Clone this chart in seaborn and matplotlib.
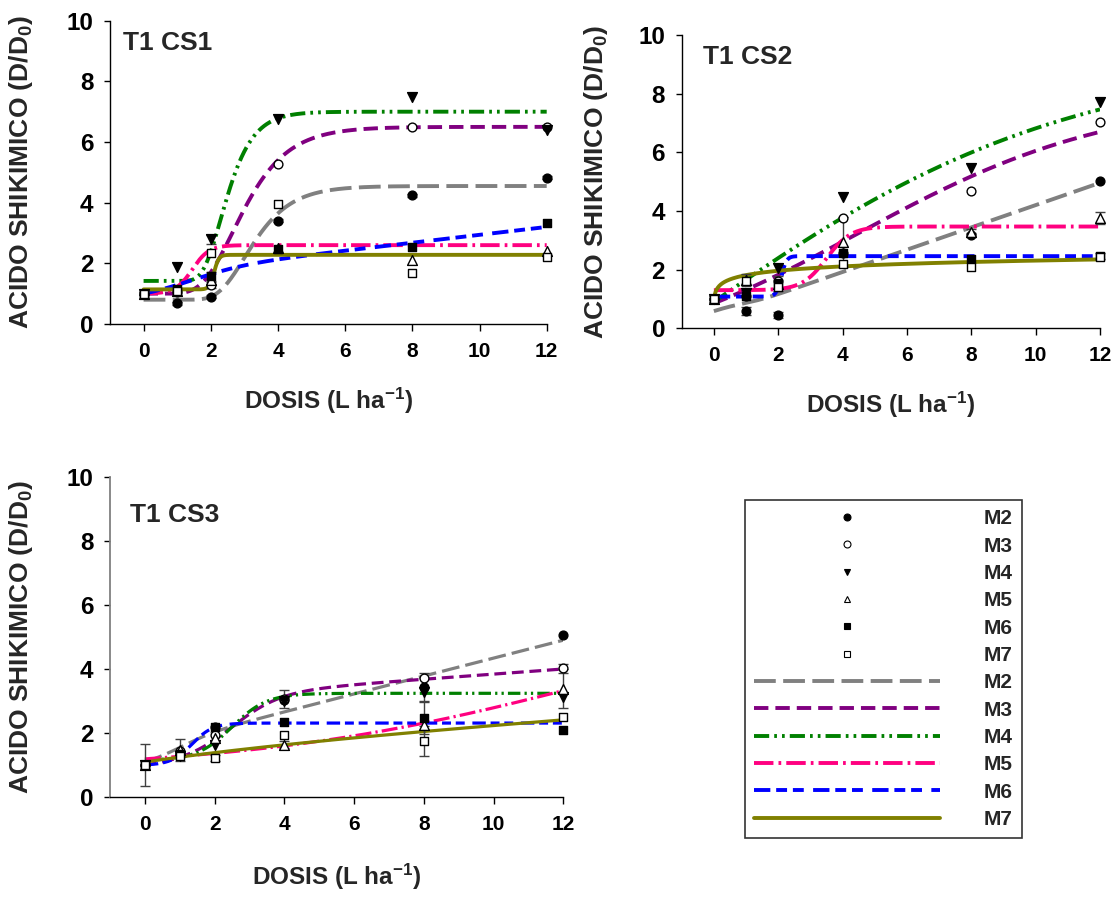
import numpy as np
import pandas as pd
import matplotlib
matplotlib.use("Agg")
import matplotlib.pyplot as plt
import seaborn as sns
from matplotlib.lines import Line2D

sns.set_theme(style="ticks")
plt.rcParams['font.family'] = ['Liberation Sans', 'DejaVu Sans']
plt.rcParams['font.weight'] = 'bold'
plt.rcParams['mathtext.fontset'] = 'custom'
plt.rcParams['mathtext.rm'] = 'Liberation Sans:bold'
plt.rcParams['mathtext.bf'] = 'Liberation Sans:bold'
plt.rcParams['mathtext.it'] = 'Liberation Sans:bold'

# ---------------- data ----------------
doses = [0, 1, 2, 4, 8, 12]
series = ["M2", "M3", "M4", "M5", "M6", "M7"]
x_ticks = [0, 2, 4, 6, 8, 10, 12]
y_ticks = [0, 2, 4, 6, 8, 10]
panel_titles = ["T1 CS1", "T1 CS2", "T1 CS3"]

# T1 CS1 means
cs1_m2 = [1.00, 0.68, 0.90, 3.40, 4.25, 4.82]
cs1_m3 = [1.00, 1.05, 1.30, 5.27, 6.50, 6.50]
cs1_m4 = [1.00, 1.89, 2.80, 6.75, 7.50, 6.40]
cs1_m5 = [1.00, 1.10, 1.45, 2.50, 2.10, 2.42]
cs1_m6 = [1.00, 1.15, 1.58, 2.48, 2.55, 3.32]
cs1_m7 = [1.00, 1.10, 2.33, 3.96, 1.69, 2.22]
# T1 CS1 errors
cs1_e2 = [0.05, 0.05, 0.05, 0.05, 0.05, 0.05]
cs1_e3 = [0.05, 0.00, 0.10, 0.00, 0.00, 0.00]
cs1_e4 = [0.00, 0.00, 0.15, 0.00, 0.00, 0.00]
cs1_e5 = [0.00, 0.00, 0.00, 0.00, 0.00, 0.00]
cs1_e6 = [0.00, 0.00, 0.15, 0.00, 0.00, 0.00]
cs1_e7 = [0.00, 0.00, 0.00, 0.00, 0.00, 0.00]

# T1 CS2 means
cs2_m2 = [1.00, 0.59, 0.46, 2.56, 3.18, 5.02]
cs2_m3 = [1.00, 1.10, 1.60, 3.75, 4.68, 7.02]
cs2_m4 = [1.00, 1.20, 2.05, 4.47, 5.48, 7.73]
cs2_m5 = [1.00, 1.65, 1.50, 2.95, 3.30, 3.75]
cs2_m6 = [1.00, 1.10, 1.53, 2.58, 2.35, 2.47]
cs2_m7 = [1.00, 1.60, 1.42, 2.20, 2.08, 2.44]
# T1 CS2 errors
cs2_e2 = [0.10, 0.12, 0.10, 0.00, 0.08, 0.00]
cs2_e3 = [0.00, 0.00, 0.00, 0.00, 0.00, 0.00]
cs2_e4 = [0.00, 0.00, 0.00, 0.00, 0.00, 0.00]
cs2_e5 = [0.00, 0.20, 0.00, 0.85, 0.10, 0.20]
cs2_e6 = [0.00, 0.00, 0.25, 0.00, 0.00, 0.10]
cs2_e7 = [0.00, 0.00, 0.00, 0.00, 0.00, 0.00]

# T1 CS3 means
cs3_m2 = [1.00, 1.40, 2.20, 3.05, 3.45, 5.07]
cs3_m3 = [1.00, 1.45, 1.95, 3.07, 3.72, 4.03]
cs3_m4 = [1.00, 1.30, 1.63, 3.00, 3.30, 3.15]
cs3_m5 = [1.00, 1.48, 1.85, 1.65, 2.26, 3.40]
cs3_m6 = [1.00, 1.35, 2.19, 2.36, 2.49, 2.10]
cs3_m7 = [1.01, 1.30, 1.22, 1.95, 1.76, 2.52]
# T1 CS3 errors
cs3_e2 = [0.00, 0.00, 0.00, 0.00, 0.45, 0.00]
cs3_e3 = [0.00, 0.00, 0.00, 0.28, 0.00, 0.13]
cs3_e4 = [0.00, 0.00, 0.00, 0.00, 0.00, 0.00]
cs3_e5 = [0.00, 0.33, 0.00, 0.12, 0.00, 0.60]
cs3_e6 = [0.00, 0.00, 0.00, 0.00, 0.50, 0.00]
cs3_e7 = [0.65, 0.00, 0.10, 0.00, 0.48, 0.00]

# fitted regression parameters: lo, h, x0, s, nu, k, q, c
# y = lo + h*(1+nu*exp(-(x-x0)/s))^(-1/nu) + k*x + q*ln(1+x/c)
cs1_f2 = [0.80, 3.75, 3.00, 0.775, 0.001, 0.00, 0.00, 1.0]
cs1_f3 = [1.00, 5.50, 2.65, 0.90, 0.001, 0.00, 0.00, 1.0]
cs1_f4 = [1.42, 5.58, 2.30, 0.53, 0.001, 0.00, 0.00, 1.0]
cs1_f5 = [1.00, 1.60, 1.45, 0.25, 1.0, 0.00, 0.00, 1.0]
cs1_f6 = [0.90, 0.74, 1.50, 0.80, 1.0, 0.13, 0.00, 1.0]
cs1_f7 = [1.14, 1.14, 2.10, 0.07, 1.0, 0.00, 0.00, 1.0]

cs2_f2 = [0.60, -0.20, 0.90, 0.35, 1.0, 0.38, 0.00, 1.0]
cs2_f3 = [-1.453, 9.40, 4.50, 4.00, 1.0, 0.00, 0.00, 1.0]
cs2_f4 = [-9.09, 18.45, -1.00, 6.00, 1.0, 0.00, 0.00, 1.0]
cs2_f5 = [1.30, 2.17, 3.50, 0.38, 1.0, 0.00, 0.00, 1.0]
cs2_f6 = [1.08, 1.38, 2.10, 0.08, 1.0, 0.00, 0.00, 1.0]
cs2_f7 = [0.96, 0.00, 0.00, 1.00, 1.0, 0.00, 0.217, 0.02]

cs3_f2 = [1.05, 0.50, 1.10, 0.50, 1.0, 0.28, 0.00, 1.0]
cs3_f3 = [0.95, 2.10, 2.50, 0.70, 1.0, 0.08, 0.00, 1.0]
cs3_f4 = [1.15, 2.10, 2.50, 0.50, 1.0, 0.00, 0.00, 1.0]
cs3_f5 = [0.813, 5.60, 13.0, 5.00, 1.0, 0.00, 0.00, 1.0]
cs3_f6 = [1.00, 1.32, 1.35, 0.30, 1.0, 0.00, 0.00, 1.0]
cs3_f7 = [1.10, 0.00, 0.00, 1.00, 1.0, 0.06, 0.433, 4.0]

panels = [
    (dict(zip(series, [cs1_m2, cs1_m3, cs1_m4, cs1_m5, cs1_m6, cs1_m7])),
     dict(zip(series, [cs1_e2, cs1_e3, cs1_e4, cs1_e5, cs1_e6, cs1_e7])),
     dict(zip(series, [cs1_f2, cs1_f3, cs1_f4, cs1_f5, cs1_f6, cs1_f7]))),
    (dict(zip(series, [cs2_m2, cs2_m3, cs2_m4, cs2_m5, cs2_m6, cs2_m7])),
     dict(zip(series, [cs2_e2, cs2_e3, cs2_e4, cs2_e5, cs2_e6, cs2_e7])),
     dict(zip(series, [cs2_f2, cs2_f3, cs2_f4, cs2_f5, cs2_f6, cs2_f7]))),
    (dict(zip(series, [cs3_m2, cs3_m3, cs3_m4, cs3_m5, cs3_m6, cs3_m7])),
     dict(zip(series, [cs3_e2, cs3_e3, cs3_e4, cs3_e5, cs3_e6, cs3_e7])),
     dict(zip(series, [cs3_f2, cs3_f3, cs3_f4, cs3_f5, cs3_f6, cs3_f7]))),
]

# ---------------- styles ----------------
line_colors = {"M2": "#808080", "M3": "#800080", "M4": "#008000",
               "M5": "#FF0080", "M6": "#0000FF", "M7": "#808000"}
line_dashes = {"M2": (0, (5.6, 1.9)),
               "M3": (0, (3.7, 1.8)),
               "M4": (0, (3.9, 1.3, 0.7, 1.3, 0.7, 1.3)),
               "M5": (0, (5.0, 1.3, 0.7, 1.3)),
               "M6": (0, (4.2, 1.5, 2.8, 1.5, 2.8, 2.4)),
               "M7": "-"}
marker_shape = {"M2": "o", "M3": "o", "M4": "v", "M5": "^", "M6": "s", "M7": "s"}
marker_face = {"M2": "black", "M3": "white", "M4": "black",
               "M5": "white", "M6": "black", "M7": "white"}
marker_size = {"M2": 40, "M3": 40, "M4": 50, "M5": 50, "M6": 38, "M7": 38}


def fit_curve(x, p):
    lo, h, x0, s, nu, k, q, c = p
    z = np.clip((x - x0) / s, -60, 60)
    with np.errstate(all="ignore"):
        f = (1.0 + nu * np.exp(-z)) ** (-1.0 / nu)
    return lo + h * f + k * x + q * np.log1p(x / c)


xs = np.linspace(0, 12, 800)

fig = plt.figure(figsize=(11.19, 9.01), dpi=100)
W, H = 1119.0, 901.0
rects = [
    [110 / W, 1 - 324 / H, 436.7 / W, 303.3 / H],
    [681.7 / W, 1 - 328.3 / H, 418.3 / W, 293.3 / H],
    [110 / W, 1 - 797.3 / H, 453.3 / W, 320 / H],
]
title_pos = [(0.03, 0.966), (0.051, 0.966), (0.044, 0.92)]
ylab_x = [-0.172, -0.171, -0.165]
xlab_y = [-0.205, -0.21, -0.20]
lws = [2.8, 2.8, 2.3]

for i, (means, errs, fits) in enumerate(panels):
    ax = fig.add_axes(rects[i])
    lw = lws[i]
    for name in series:
        sns.lineplot(x=xs, y=fit_curve(xs, fits[name]), ax=ax,
                     color=line_colors[name], linewidth=lw,
                     linestyle=line_dashes[name], errorbar=None,
                     estimator=None, sort=False, legend=False, zorder=2)
    for name in series:
        e = np.array(errs[name])
        m = np.array(means[name])
        d = np.array(doses)
        sel = e > 0
        if sel.any():
            ax.errorbar(d[sel], m[sel], yerr=e[sel], fmt="none",
                        ecolor="#404040", elinewidth=1.0, capsize=3.5,
                        capthick=1.0, zorder=3, clip_on=False)
        df = pd.DataFrame({"dose": doses, "val": means[name]})
        sns.scatterplot(data=df, x="dose", y="val", ax=ax,
                        marker=marker_shape[name], s=marker_size[name],
                        color=marker_face[name], edgecolor="black",
                        linewidth=1.0, zorder=4, legend=False, clip_on=False)
    ax.set_xlim(-1, 12)
    ax.set_ylim(0, 10)
    ax.set_xticks(x_ticks)
    ax.set_yticks(y_ticks)
    sns.despine(ax=ax)
    spine_col = "#808080" if i == 2 else "black"
    ax.spines["left"].set_color(spine_col)
    ax.spines["left"].set_linewidth(1.3 if i == 2 else 1.0)
    ax.spines["bottom"].set_color("black")
    ax.spines["bottom"].set_linewidth(1.0)
    ax.tick_params(axis="x", direction="out", length=5, width=1,
                   labelsize=15, pad=8, colors="black")
    ax.tick_params(axis="y", direction="out", length=4, width=1,
                   labelsize=17.5, pad=8, colors="black")
    for lab in ax.get_xticklabels() + ax.get_yticklabels():
        lab.set_fontweight("bold")
    ax.set_xlabel(r"DOSIS (L ha$^{-1}$)", fontsize=17.5, fontweight="bold")
    ax.set_ylabel(r"ACIDO SHIKIMICO (D/D$_{0}$)", fontsize=19, fontweight="bold")
    ax.xaxis.set_label_coords(0.5, xlab_y[i])
    ax.yaxis.set_label_coords(ylab_x[i], 0.5)
    ax.text(title_pos[i][0], title_pos[i][1], panel_titles[i],
            transform=ax.transAxes, ha="left", va="top",
            fontsize=19, fontweight="bold")

# ---------------- legend ----------------
handles = []
labels = []
for name in series:
    handles.append(Line2D([], [], linestyle="none", marker=marker_shape[name],
                          markersize=5, markerfacecolor=marker_face[name],
                          markeredgecolor="black", markeredgewidth=0.8))
    labels.append(name)
for name in series:
    handles.append(Line2D([], [], color=line_colors[name], linewidth=2.8,
                          linestyle=line_dashes[name]))
    labels.append(name)

leg = fig.legend(handles, labels, loc="upper left",
                 bbox_to_anchor=(745 / W, 1 - 500 / H),
                 borderaxespad=0.0,
                 frameon=True, fancybox=False, handlelength=8.9,
                 handletextpad=2.1, labelspacing=0.40, borderpad=0.45,
                 numpoints=1, prop={"size": 15, "weight": "bold"})
leg.get_frame().set_edgecolor("black")
leg.get_frame().set_linewidth(1.2)

fig.savefig("out.png", dpi=100)
